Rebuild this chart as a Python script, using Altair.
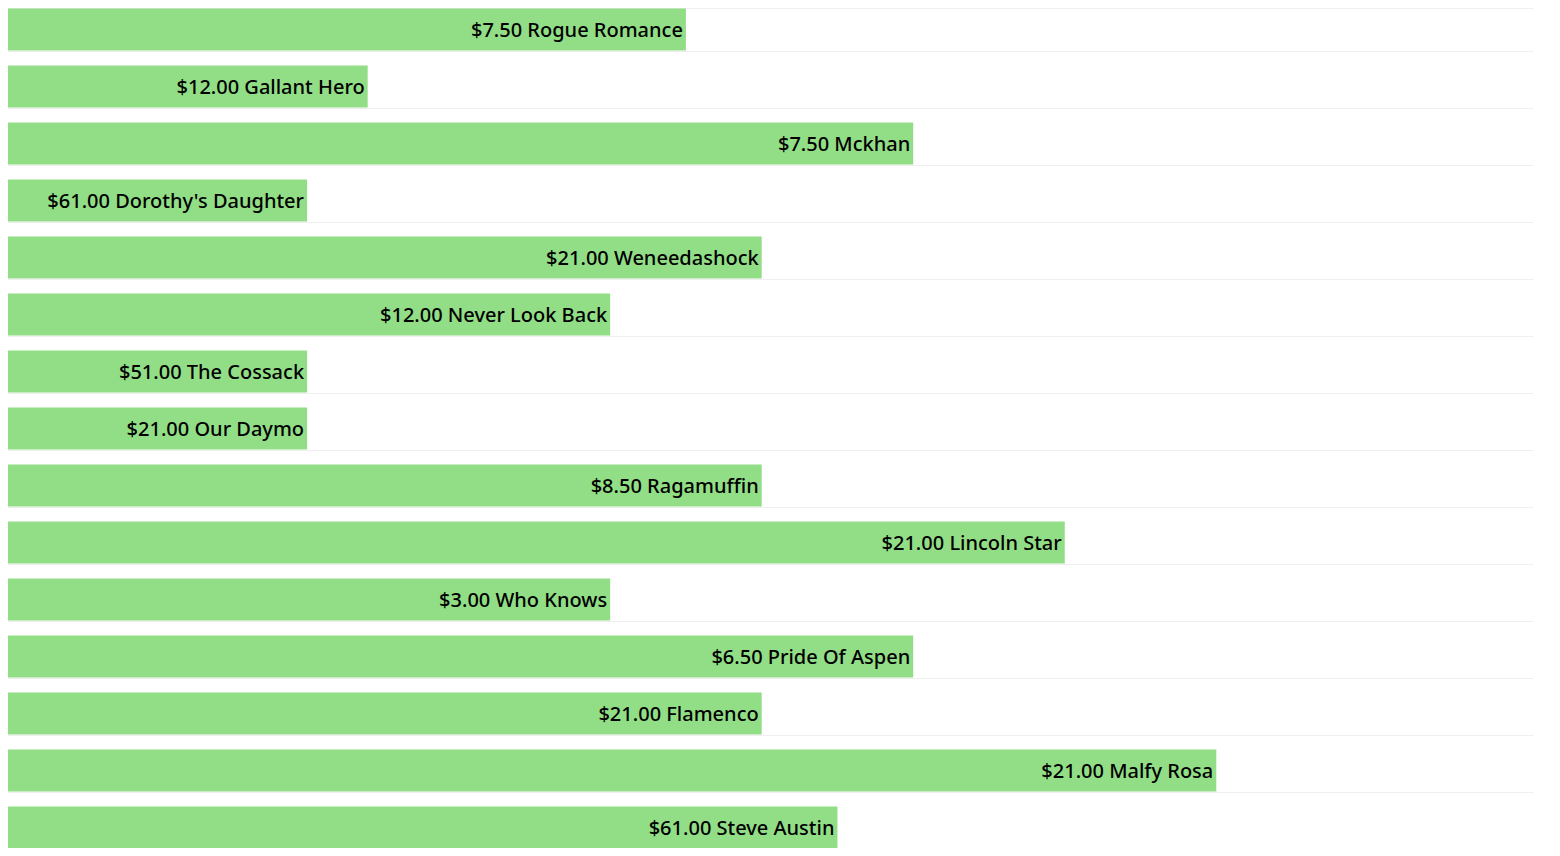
import altair as alt
import pandas as pd

names = ["Rogue Romance", "Gallant Hero", "Mckhan", "Dorothy's Daughter", "Weneedashock",
         "Never Look Back", "The Cossack", "Our Daymo", "Ragamuffin", "Lincoln Star",
         "Who Knows", "Pride Of Aspen", "Flamenco", "Malfy Rosa", "Steve Austin"]
prices = ["$7.50", "$12.00", "$7.50", "$61.00", "$21.00",
          "$12.00", "$51.00", "$21.00", "$8.50", "$21.00",
          "$3.00", "$6.50", "$21.00", "$21.00", "$61.00"]
values = [9.0, 4.8, 12.0, 4.0, 10.0, 8.0, 4.0, 4.0, 10.0, 14.0, 8.0, 12.0, 10.0, 16.0, 11.0]

df = pd.DataFrame({"name": names, "price": prices, "value": values})
df["label"] = df["price"] + " " + df["name"]

y_scale = alt.Scale(paddingInner=0.26, paddingOuter=0.13, range=[-7, 848])
x_scale = alt.Scale(domain=[0, 20.18], nice=False, range=[-4, 1525])

y_enc = alt.Y("name:N", sort=names, scale=y_scale,
              axis=alt.Axis(title=None, labels=False, ticks=False, domain=False,
                            grid=True, gridColor="#efefef", gridWidth=1, tickBand="extent"))
x_enc = alt.X("value:Q", scale=x_scale, axis=None)

bars = alt.Chart(df).mark_bar(color="#92de86").encode(x=x_enc, y=y_enc)
text = alt.Chart(df).mark_text(align="right", baseline="middle", dx=-3, dy=1,
                               font="Noto Sans", fontSize=20, fontWeight=500,
                               color="#000000").encode(
    x=x_enc, y=alt.Y("name:N", sort=names), text="label:N")

chart = (bars + text).properties(
    width=1529, height=840, padding=0,
    autosize=alt.AutoSizeParams(type="none")
).configure_view(strokeWidth=0)
chart.save("out.html", embed_options={"renderer": "svg", "actions": False})
